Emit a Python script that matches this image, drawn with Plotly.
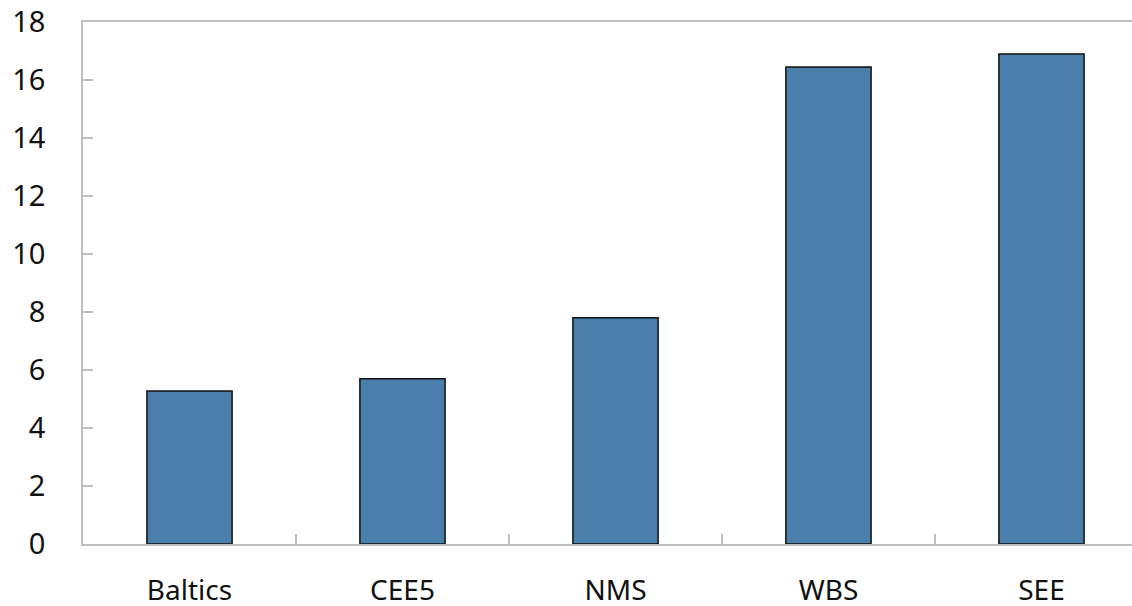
import plotly.graph_objects as go

# Regional values
regions = ["Baltics", "CEE5", "NMS", "WBS", "SEE"]
values = [5.28, 5.7, 7.8, 16.45, 16.9]
y_ticks = [0, 2, 4, 6, 8, 10, 12, 14, 16, 18]

axis_grey = "#bfbfbf"
bar_blue = "#4a7fac"

fig = go.Figure(
    go.Bar(
        x=regions,
        y=values,
        width=0.4,
        marker=dict(color=bar_blue, line=dict(color="#111111", width=1.5)),
    )
)

fig.update_layout(
    width=1132,
    height=606,
    margin=dict(l=83, r=0, t=22, b=62),
    paper_bgcolor="white",
    plot_bgcolor="white",
    showlegend=False,
    font=dict(family="Noto Sans, Open Sans, sans-serif", color="#111111", size=28),
    xaxis=dict(
        type="category",
        range=[-0.5, 4.425],
        automargin=False,
        showline=True,
        linecolor=axis_grey,
        linewidth=1.5,
        mirror=True,
        ticks="inside",
        tickson="boundaries",
        ticklen=10,
        tickcolor=axis_grey,
        tickwidth=1.5,
        showgrid=False,
        ticklabelstandoff=21,
        tickfont=dict(size=28),
    ),
    yaxis=dict(
        range=[0, 18],
        tickvals=y_ticks,
        automargin=False,
        showline=True,
        linecolor=axis_grey,
        linewidth=1.5,
        ticks="inside",
        ticklen=10,
        tickcolor=axis_grey,
        tickwidth=1.5,
        showgrid=False,
        zeroline=False,
        ticklabelstandoff=30,
        tickfont=dict(size=29),
    ),
)

fig.write_html("out.html")
